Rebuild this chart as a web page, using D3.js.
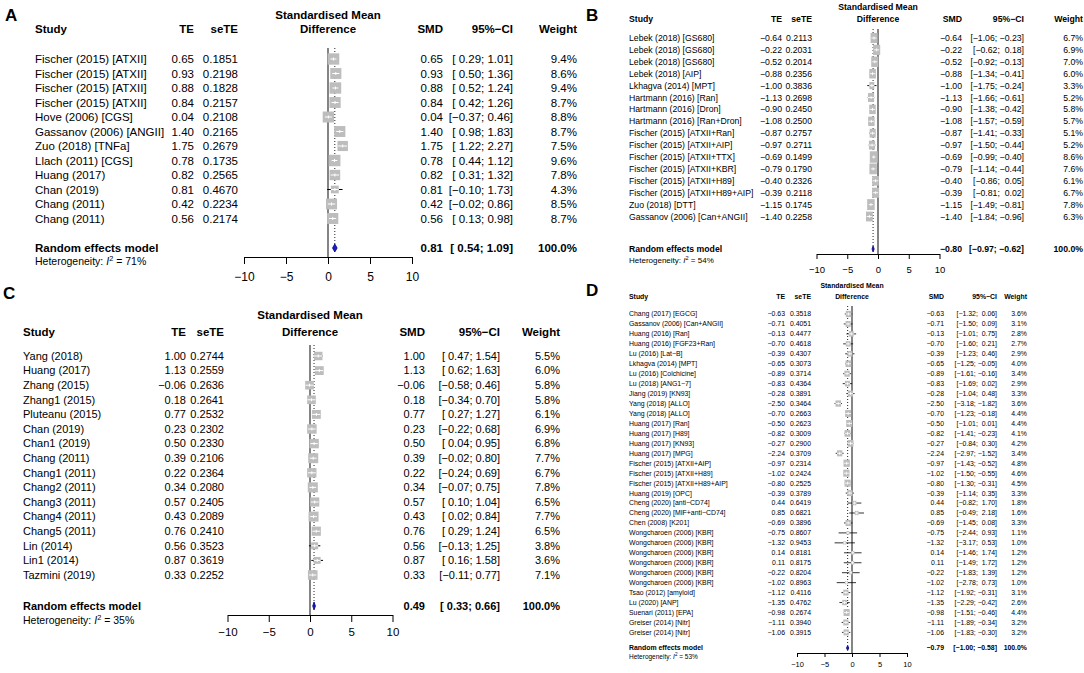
<!DOCTYPE html>
<html>
<head>
<meta charset="utf-8">
<script src="https://cdn.jsdelivr.net/npm/d3@7"></script>
<style>
body {margin:0; background:#fff;}
svg {font-family:"Liberation Sans", Arial, Helvetica, sans-serif;}
</style>
</head>
<body>
<svg id="chart" width="1084" height="673"></svg>
<script>
// ---- panel A
var aStudy = ["Fischer (2015) [ATXII]","Fischer (2015) [ATXII]","Fischer (2015) [ATXII]","Fischer (2015) [ATXII]",
  "Hove (2006) [CGS]","Gassanov (2006) [ANGII]","Zuo (2018) [TNFa]","Llach (2011) [CGS]",
  "Huang (2017)","Chan (2019)","Chang (2011)","Chang (2011)"]
var aTE = [0.65,0.93,0.88,0.84,0.04,1.40,1.75,0.78,0.82,0.81,0.42,0.56]
var aSE = [0.1851,0.2198,0.1828,0.2157,0.2108,0.2165,0.2679,0.1735,0.2565,0.4670,0.2234,0.2174]
var aLow = [0.29,0.50,0.52,0.42,-0.37,0.98,1.22,0.44,0.31,-0.10,-0.02,0.13]
var aUp = [1.01,1.36,1.24,1.26,0.46,1.83,2.27,1.12,1.32,1.73,0.86,0.98]
var aWeight = [9.4,8.6,9.4,8.7,8.8,8.7,7.5,9.6,7.8,4.3,8.5,8.7]
var aRandom = [0.81,0.54,1.09]
var aI2 = 71

// ---- panel B
var bStudy = ["Lebek (2018) [GS680]","Lebek (2018) [GS680]","Lebek (2018) [GS680]","Lebek (2018) [AIP]",
  "Lkhagva (2014) [MPT]","Hartmann (2016) [Ran]","Hartmann (2016) [Dron]","Hartmann (2016) [Ran+Dron]",
  "Fischer (2015) [ATXII+Ran]","Fischer (2015) [ATXII+AIP]","Fischer (2015) [ATXII+TTX]","Fischer (2015) [ATXII+KBR]",
  "Fischer (2015) [ATXII+H89]","Fischer (2015) [ATXII+H89+AIP]","Zuo (2018) [DTT]","Gassanov (2006) [Can+ANGII]"]
var bTE = [-0.64,-0.22,-0.52,-0.88,-1.00,-1.13,-0.90,-1.08,-0.87,-0.97,-0.69,-0.79,-0.40,-0.39,-1.15,-1.40]
var bSE = [0.2113,0.2031,0.2014,0.2356,0.3836,0.2698,0.2450,0.2500,0.2757,0.2711,0.1499,0.1790,0.2326,0.2118,0.1745,0.2258]
var bLow = [-1.06,-0.62,-0.92,-1.34,-1.75,-1.66,-1.38,-1.57,-1.41,-1.50,-0.99,-1.14,-0.86,-0.81,-1.49,-1.84]
var bUp = [-0.23,0.18,-0.13,-0.41,-0.24,-0.61,-0.42,-0.59,-0.33,-0.44,-0.40,-0.44,0.05,0.02,-0.81,-0.96]
var bWeight = [6.7,6.9,7.0,6.0,3.3,5.2,5.8,5.7,5.1,5.2,8.6,7.6,6.1,6.7,7.8,6.3]
var bRandom = [-0.80,-0.97,-0.62]
var bI2 = 54

// ---- panel C
var cStudy = ["Yang (2018)","Huang (2017)","Zhang (2015)","Zhang1 (2015)","Pluteanu (2015)","Chan (2019)",
  "Chan1 (2019)","Chang (2011)","Chang1 (2011)","Chang2 (2011)","Chang3 (2011)","Chang4 (2011)",
  "Chang5 (2011)","Lin (2014)","Lin1 (2014)","Tazmini (2019)"]
var cTE = [1.00,1.13,-0.06,0.18,0.77,0.23,0.50,0.39,0.22,0.34,0.57,0.43,0.76,0.56,0.87,0.33]
var cSE = [0.2744,0.2559,0.2636,0.2641,0.2532,0.2302,0.2330,0.2106,0.2364,0.2080,0.2405,0.2089,0.2410,0.3523,0.3619,0.2252]
var cLow = [0.47,0.62,-0.58,-0.34,0.27,-0.22,0.04,-0.02,-0.24,-0.07,0.10,0.02,0.29,-0.13,0.16,-0.11]
var cUp = [1.54,1.63,0.46,0.70,1.27,0.68,0.95,0.80,0.69,0.75,1.04,0.84,1.24,1.25,1.58,0.77]
var cWeight = [5.5,6.0,5.8,5.8,6.1,6.9,6.8,7.7,6.7,7.8,6.5,7.7,6.5,3.8,3.6,7.1]
var cRandom = [0.49,0.33,0.66]
var cI2 = 35

// ---- panel D
var dStudy = ["Chang (2017) [EGCG]","Gassanov (2006) [Can+ANGII]","Huang (2016) [Ran]","Huang (2016) [FGF23+Ran]",
  "Lu (2016) [Lat\u2212B]","Lkhagva (2014) [MPT]","Lu (2016) [Colchicine]","Lu (2018) [ANG1\u22127]",
  "Jiang (2019) [KN93]","Yang (2018) [ALLO]","Yang (2018) [ALLO]","Huang (2017) [Ran]","Huang (2017) [H89]",
  "Huang (2017) [KN93]","Huang (2017) [MPG]","Fischer (2015) [ATXII+AIP]","Fischer (2015) [ATXII+H89]",
  "Fischer (2015) [ATXII+H89+AIP]","Huang (2019) [OPC]","Cheng (2020) [anti\u2212CD74]","Cheng (2020) [MIF+anti\u2212CD74]",
  "Chen (2008) [K201]","Wongcharoen (2006) [KBR]","Wongcharoen (2006) [KBR]","Wongcharoen (2006) [KBR]",
  "Wongcharoen (2006) [KBR]","Wongcharoen (2006) [KBR]","Wongcharoen (2006) [KBR]","Tsao (2012) [amyloid]",
  "Lu (2020) [ANP]","Suenari (2011) [EPA]","Greiser (2014) [Nitr]","Greiser (2014) [Nitr]"]
var dTE = [-0.63,-0.71,-0.13,-0.70,-0.39,-0.65,-0.89,-0.83,-0.28,-2.50,-0.70,-0.50,-0.82,-0.27,-2.24,-0.97,-1.02,
  -0.80,-0.39,0.44,0.85,-0.69,-0.75,-1.32,0.14,0.11,-0.22,-1.02,-1.12,-1.35,-0.98,-1.11,-1.06]
var dSE = [0.3518,0.4051,0.4477,0.4618,0.4307,0.3073,0.3714,0.4364,0.3891,0.3464,0.2663,0.2623,0.3009,0.2900,0.3709,
  0.2314,0.2424,0.2525,0.3789,0.6419,0.6821,0.3896,0.8607,0.9453,0.8181,0.8175,0.8204,0.8963,0.4116,0.4762,0.2674,0.3940,0.3915]
var dLow = [-1.32,-1.50,-1.01,-1.60,-1.23,-1.25,-1.61,-1.69,-1.04,-3.18,-1.23,-1.01,-1.41,-0.84,-2.97,-1.43,-1.50,
  -1.30,-1.14,-0.82,-0.49,-1.45,-2.44,-3.17,-1.46,-1.49,-1.83,-2.78,-1.92,-2.29,-1.51,-1.89,-1.83]
var dUp = [0.06,0.09,0.75,0.21,0.46,-0.05,-0.16,0.02,0.48,-1.82,-0.18,0.01,-0.23,0.30,-1.52,-0.52,-0.55,
  -0.31,0.35,1.70,2.18,0.08,0.93,0.53,1.74,1.72,1.39,0.73,-0.31,-0.42,-0.46,-0.34,-0.30]
var dWeight = [3.6,3.1,2.8,2.7,2.9,4.0,3.4,2.9,3.3,3.6,4.4,4.4,4.1,4.2,3.4,4.8,4.6,4.5,3.3,1.8,1.6,3.3,
  1.1,1.0,1.2,1.2,1.2,1.0,3.1,2.6,4.4,3.2,3.2]
var dRandom = [-0.79,-1.00,-0.58]
var dI2 = 53

var axisTicks = [-10,-5,0,5,10]

var svg = d3.select("#chart")
var f2 = d3.format(".2f")
var f4 = d3.format(".4f")
var f1 = d3.format(".1f")

var txt = function(g, x, y, s, anchor, size, bold)
{
    return g.append("text")
        .attr("x", x).attr("y", y)
        .attr("text-anchor", anchor)
        .attr("font-size", size)
        .attr("font-weight", bold ? "bold" : "normal")
        .attr("xml:space", "preserve")
        .style("white-space", "pre")
        .text(s)
}

var drawPanel = function(d, p)
{
    var g = svg.append("g")
    var n = d.study.length
    var fs = p.font
    var base = fs * 0.35

    var xScale = d3.scaleLinear().domain([-10,10]).range([p.zero - p.half, p.zero + p.half])
    var yScale = d3.scaleLinear().domain([0, n-1]).range([p.row0, p.row0 + (n-1)*p.step])
    var wScale = d3.scaleSqrt().domain([0,100]).range([0,1])

    var negLow = d3.min(d.low) < 0
    var negUp = d3.min(d.up) < 0
    var ci = function(lo, hi)
    {
        var l = (negLow && lo >= 0 ? " " : "") + f2(lo)
        var h = (negUp && hi >= 0 ? " " : "") + f2(hi)
        return "[" + l + "; " + h + "]"
    }

    // label + headers
    txt(g, p.labelX, p.labelY, p.label, "start", 17, true)
    txt(g, p.zero, p.hdr1, "Standardised Mean", "middle", p.hdrFont, true)
    txt(g, p.zero, p.hdr2, "Difference", "middle", p.hdrFont, true)
    txt(g, p.studyX, p.hdr2, "Study", "start", p.hdrFont, true)
    txt(g, p.teX, p.hdr2, "TE", "end", p.hdrFont, true)
    txt(g, p.seX, p.hdr2, "seTE", "end", p.hdrFont, true)
    txt(g, p.smdX, p.hdr2, "SMD", "end", p.hdrFont, true)
    txt(g, p.ciX, p.hdr2, "95%\u2212CI", "end", p.hdrFont, true)
    txt(g, p.wX, p.hdr2, "Weight", "end", p.hdrFont, true)

    // rows of text
    d.study.forEach(function(s, i)
    {
        var yy = yScale(i) + base
        txt(g, p.studyX, yy, s, "start", fs, false)
        txt(g, p.teX, yy, f2(d.te[i]), "end", fs, false)
        txt(g, p.seX, yy, f4(d.se[i]), "end", fs, false)
        txt(g, p.smdX, yy, f2(d.te[i]), "end", fs, false)
        txt(g, p.ciX, yy, ci(d.low[i], d.up[i]), "end", fs, false)
        txt(g, p.wX, yy, f1(d.weight[i]) + "%", "end", fs, false)
    })

    // random effects row
    var ry = p.reY + base
    txt(g, p.studyX, ry, "Random effects model", "start", fs, true)
    txt(g, p.smdX, ry, f2(d.random[0]), "end", fs, true)
    txt(g, p.ciX, ry, ci(d.random[1], d.random[2]), "end", fs, true)
    txt(g, p.wX, ry, "100.0%", "end", fs, true)

    var het = g.append("text")
        .attr("x", p.studyX).attr("y", p.hetY)
        .attr("font-size", p.hetFont)
    het.append("tspan").text("Heterogeneity: ")
    het.append("tspan").attr("font-style", "italic").text("I")
    het.append("tspan").attr("dy", -p.hetFont*0.4).attr("font-size", p.hetFont*0.7).text("2")
    het.append("tspan").attr("dy", p.hetFont*0.4).text(" = " + d.i2 + "%")

    // reference line at zero and dotted line at pooled estimate
    g.append("line")
        .attr("x1", xScale(0)).attr("x2", xScale(0))
        .attr("y1", p.plotTop).attr("y2", p.axisY)
        .attr("stroke", "#333").attr("stroke-width", 1.2)
    g.append("line")
        .attr("x1", xScale(d.random[0])).attr("x2", xScale(d.random[0]))
        .attr("y1", p.plotTop).attr("y2", p.reY - p.diamH/2)
        .attr("stroke", "#222").attr("stroke-width", 1)
        .attr("stroke-dasharray", "1,2")

    // study marks
    var marks = g.selectAll(".mark")
        .data(d.study.map(function(s, i) { return i }))
        .enter()
        .append("g")
        .attr("class", "mark")

    var half = function(i) { return p.sqW*wScale(d.weight[i])/2 }

    marks.append("line")
        .attr("x1", function(i) { return xScale(d.low[i]) })
        .attr("x2", function(i) { return xScale(d.up[i]) })
        .attr("y1", function(i) { return yScale(i) })
        .attr("y2", function(i) { return yScale(i) })
        .attr("stroke", "black").attr("stroke-width", p.lw)

    marks.append("rect")
        .attr("x", function(i) { return xScale(d.te[i]) - half(i) })
        .attr("y", function(i) { return yScale(i) - p.sqH*wScale(d.weight[i])/2 })
        .attr("width", function(i) { return 2*half(i) })
        .attr("height", function(i) { return p.sqH*wScale(d.weight[i]) })
        .attr("fill", "#bdbdbd")

    marks.append("line")
        .attr("x1", function(i) { return Math.max(xScale(d.low[i]), xScale(d.te[i]) - half(i)) })
        .attr("x2", function(i) { return Math.min(xScale(d.up[i]), xScale(d.te[i]) + half(i)) })
        .attr("y1", function(i) { return yScale(i) })
        .attr("y2", function(i) { return yScale(i) })
        .attr("stroke", "white").attr("stroke-width", p.lw)

    marks.append("line")
        .attr("x1", function(i) { return xScale(d.te[i]) })
        .attr("x2", function(i) { return xScale(d.te[i]) })
        .attr("y1", function(i) { return yScale(i) - 1.5 })
        .attr("y2", function(i) { return yScale(i) + 1.5 })
        .attr("stroke", "white").attr("stroke-width", p.lw)

    // pooled diamond
    var dm = d.random
    g.append("path")
        .attr("d", "M" + xScale(dm[1]) + "," + p.reY +
                   "L" + xScale(dm[0]) + "," + (p.reY - p.diamH/2) +
                   "L" + xScale(dm[2]) + "," + p.reY +
                   "L" + xScale(dm[0]) + "," + (p.reY + p.diamH/2) + "Z")
        .attr("fill", "#1c1cc8").attr("stroke", "#00007a").attr("stroke-width", 0.8)

    // x axis
    var xAxis = d3.axisBottom(xScale)
        .tickValues(axisTicks)
        .tickSize(p.tick)
        .tickSizeOuter(0)
        .tickPadding(p.tickPad)
        .tickFormat(d3.format("d"))
    var ax = g.append("g")
        .attr("transform", "translate(0," + p.axisY + ")")
        .call(xAxis)
    ax.attr("font-family", null).attr("font-size", p.axisFont)
    ax.selectAll("path,line").attr("stroke", "black").attr("stroke-width", 1)
    ax.selectAll("text").attr("fill", "black")
}

drawPanel({study:aStudy, te:aTE, se:aSE, low:aLow, up:aUp, weight:aWeight, random:aRandom, i2:aI2},
  {label:"A", labelX:5, labelY:21, font:11.5, hdrFont:11.5, hetFont:10.5, axisFont:12,
   hdr1:19, hdr2:33, studyX:35, teX:194, seX:238, smdX:443, ciX:513, wX:577,
   zero:328, half:84, row0:59, step:14.5, reY:248, hetY:265, axisY:257, plotTop:48,
   sqW:38, sqH:37, diamH:8, lw:1, tick:7, tickPad:8})

drawPanel({study:bStudy, te:bTE, se:bSE, low:bLow, up:bUp, weight:bWeight, random:bRandom, i2:bI2},
  {label:"B", labelX:586, labelY:21, font:8.7, hdrFont:8.7, hetFont:8, axisFont:9.5,
   hdr1:10, hdr2:22, studyX:629, teX:782, seX:812, smdX:962, ciX:1024, wX:1083,
   zero:878, half:61.5, row0:38, step:11.9, reY:249, hetY:263, axisY:254, plotTop:29,
   sqW:27, sqH:39, diamH:6, lw:0.9, tick:5, tickPad:7})

drawPanel({study:cStudy, te:cTE, se:cSE, low:cLow, up:cUp, weight:cWeight, random:cRandom, i2:cI2},
  {label:"C", labelX:3, labelY:299, font:11, hdrFont:11.5, hetFont:10.5, axisFont:11.5,
   hdr1:319, hdr2:336, studyX:23, teX:186, seX:224, smdX:425, ciX:500, wX:560,
   zero:310, half:82.5, row0:356, step:14.6, reY:606, hetY:624, axisY:615, plotTop:345,
   sqW:36, sqH:36, diamH:8, lw:1, tick:7, tickPad:6})

drawPanel({study:dStudy, te:dTE, se:dSE, low:dLow, up:dUp, weight:dWeight, random:dRandom, i2:dI2},
  {label:"D", labelX:586, labelY:296, font:6.9, hdrFont:6.9, hetFont:6.5, axisFont:7.5,
   hdr1:288, hdr2:299, studyX:629, teX:785, seX:811, smdX:944, ciX:997, wX:1027,
   zero:852, half:55, row0:314, step:9.95, reY:648, hetY:659, axisY:653, plotTop:306,
   sqW:29, sqH:33, diamH:5, lw:0.8, tick:4, tickPad:5})
</script>
</body>
</html>
